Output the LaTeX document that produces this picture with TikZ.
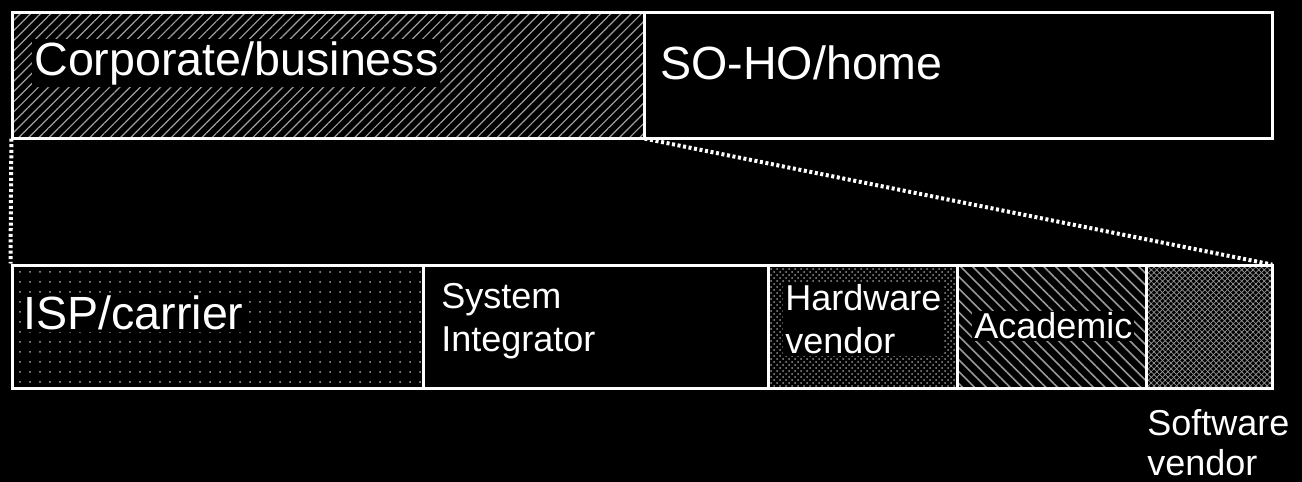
\documentclass[tikz,border=0pt]{standalone}
\usepackage{fontspec}
\setmainfont{Liberation Sans}
\usetikzlibrary{patterns,patterns.meta}

\tikzset{
  seg/.style={draw=white, line width=1.5pt, minimum height=61.5pt, inner sep=0pt},
  topseg/.style={seg, minimum height=63pt},
  lbl/.style={text=white, fill=black, anchor=west, inner sep=1pt, align=left},
  biglbl/.style={lbl, font=\fontsize{23.3}{26}\selectfont},
  smalllbl/.style={lbl, font=\fontsize{18}{21.5}\selectfont},
  zoomline/.style={white, line width=2pt, dash pattern=on 1.5pt off 1.3pt}
}

\begin{document}
\begin{tikzpicture}[x=0.5pt,y=-0.5pt]
    % page = 1302 x 482 px, y runs downward
    \fill[black] (0,0) rectangle (1302,482);
    \useasboundingbox (0,0) rectangle (1302,482);
    % top bar: whole market
    \node[topseg, minimum width=316pt, pattern color=gray!75,
          pattern={Lines[angle=45,distance=3.6pt,line width=0.6pt]}] (corp) at (328,75) {};
    \node[topseg, minimum width=314pt] (soho) at (958,75) {};
    \node[biglbl] (corpt) at (32,63) {Corporate/business};
    \node[biglbl] (sohot) at (658,63) {SO-HO/home};
    % bottom bar: corporate segment split up
    \node[seg, minimum width=205.5pt, pattern color=gray!70,
          pattern={Dots[distance=5pt,radius=0.5pt]}] (isp) at (217.5,326.5) {};
    \node[seg, minimum width=172.5pt] (sysint) at (595.5,326.5) {};
    \node[seg, minimum width=94.5pt, pattern color=gray!85, pattern=crosshatch dots] (hw) at (862.5,326.5) {};
    \node[seg, minimum width=94.5pt, pattern color=gray!80,
          pattern={Lines[angle=-45,distance=4.2pt,line width=0.8pt]}] (acad) at (1051.5,326.5) {};
    \node[seg, minimum width=63pt, pattern color=gray!80,
          preaction={pattern color=gray!80, pattern={Lines[angle=-45,distance=2pt,line width=0.35pt]}},
          pattern={Lines[angle=45,distance=2pt,line width=0.35pt]}] (soft) at (1209,326.5) {};
    \node[biglbl] (ispt) at (21,313) {ISP/carrier};
    \node[smalllbl] (sysintt) at (439,321) {System\\Integrator};
    \node[smalllbl] (hwt) at (783,319) {Hardware\\vendor};
    \node[smalllbl] (acadt) at (972,326) {Academic};
    \node[smalllbl, font=\fontsize{18}{20}\selectfont] (softt) at (1145,443) {Software\\vendor};
    % zoom lines from corporate part down to its breakdown
    \draw[zoomline] (corp.south west) -- (isp.north west);
    \draw[zoomline] (corp.south east) -- (soft.north east);
  \end{tikzpicture}
\end{document}
